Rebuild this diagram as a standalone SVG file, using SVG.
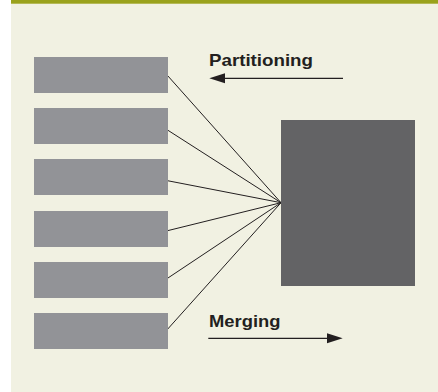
<svg xmlns="http://www.w3.org/2000/svg" width="438" height="392" viewBox="0 0 438 392">
<defs>
<style>
.src{fill:#929397}
.conn line{stroke:#231f20;stroke-width:1}
.lbl{font-family:"Liberation Sans",Arial,sans-serif;font-weight:bold;font-size:17px;fill:#231f20}
.arr{stroke:#231f20;stroke-width:1.2;fill:none}
</style>
</defs>
<rect x="0" y="0" width="438" height="392" fill="#ffffff"/>
<rect x="11" y="0" width="427" height="392" fill="#f1f1e2"/>
<rect x="11" y="0" width="427" height="3.7" fill="#9aa21c"/>
<g id="connectors" class="conn">
<line x1="167.5" y1="75.5" x2="281" y2="202.7"/>
<line x1="167.5" y1="130" x2="281" y2="202.7"/>
<line x1="167.5" y1="180.7" x2="281" y2="202.7"/>
<line x1="167.5" y1="230.7" x2="281" y2="202.7"/>
<line x1="167.5" y1="278.3" x2="281" y2="202.7"/>
<line x1="167.5" y1="329.3" x2="281" y2="202.7"/>
</g>
<g id="part1"><rect class="src" x="34" y="57" width="134" height="36"/></g>
<g id="part2"><rect class="src" x="34" y="108" width="134" height="36"/></g>
<g id="part3"><rect class="src" x="34" y="159" width="134" height="36"/></g>
<g id="part4"><rect class="src" x="34" y="211" width="134" height="36"/></g>
<g id="part5"><rect class="src" x="34" y="262" width="134" height="36"/></g>
<g id="part6"><rect class="src" x="34" y="313" width="134" height="36"/></g>
<g id="whole"><rect x="281" y="120" width="134" height="166" fill="#636365"/></g>
<g id="partitioning">
<text class="lbl" x="209" y="65.7" textLength="104" lengthAdjust="spacingAndGlyphs">Partitioning</text>
<line class="arr" x1="343" y1="78.3" x2="222" y2="78.3"/>
<polygon points="209.3,78.3 225,73.3 225,83.3" fill="#231f20"/>
</g>
<g id="merging">
<text class="lbl" x="209" y="326.7" textLength="71.5" lengthAdjust="spacingAndGlyphs">Merging</text>
<line class="arr" x1="208.3" y1="338.3" x2="330" y2="338.3"/>
<polygon points="342.7,338.3 327,333.3 327,343.3" fill="#231f20"/>
</g>
</svg>
